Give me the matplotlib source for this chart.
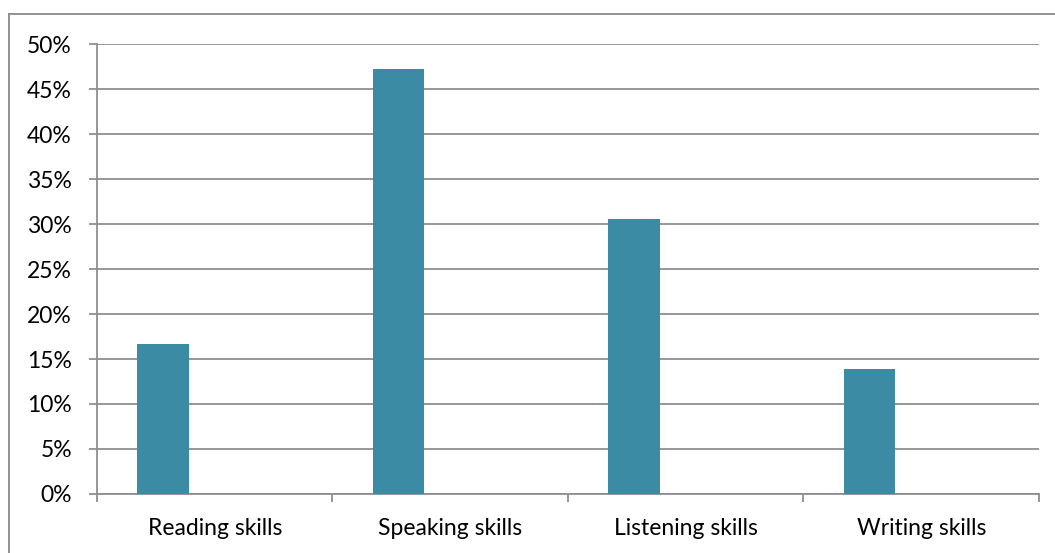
import matplotlib
matplotlib.use("Agg")
import matplotlib.pyplot as plt
from matplotlib.lines import Line2D
from matplotlib.ticker import FixedLocator, PercentFormatter

# values (share of respondents)
categories = ["Reading skills", "Speaking skills", "Listening skills", "Writing skills"]
shares = [16.67, 47.22, 30.56, 13.89]
yticks = [0, 5, 10, 15, 20, 25, 30, 35, 40, 45, 50]

BAR = "#3C8BA4"
GRID = "#8F8F8F"

plt.rcParams["font.family"] = ["Lato", "DejaVu Sans"]

fig = plt.figure(figsize=(10.55, 5.53), dpi=100)
ax = fig.add_axes([0.0919, 0.1067, 0.8929, 0.8137])

# excel-style cluster: bar sits in the first of three slots per category
x = list(range(len(categories)))
width = 0.22
offs = -0.5 + 66 / 235.25
ax.bar([i + offs for i in x], shares, width=width, color=BAR, zorder=3)

ax.set_xlim(-0.5, len(categories) - 0.5)
ax.set_ylim(0, 50)
ax.set_yticks(yticks)
ax.yaxis.set_major_formatter(PercentFormatter(decimals=0))
ax.grid(axis="y", color=GRID, linewidth=1.3, zorder=0)

ax.set_xticks(x)
ax.set_xticklabels(categories)
ax.xaxis.set_minor_locator(FixedLocator([i - 0.5 for i in range(len(categories) + 1)]))
ax.tick_params(axis="x", which="major", length=0, pad=17, labelsize=16.5)
ax.tick_params(axis="x", which="minor", length=6, width=1.3, color=GRID)
ax.tick_params(axis="y", length=6, width=1.3, color=GRID, pad=12, labelsize=16.5)

for s in ["top", "right"]:
    ax.spines[s].set_visible(False)
for s in ["left", "bottom"]:
    ax.spines[s].set_color(GRID)
    ax.spines[s].set_linewidth(1.3)

# outer chart border (cropped: only left and top visible)
W, H = 1055, 553
fig.add_artist(Line2D([9 / W, 9 / W], [0, 1 - 14 / H], color="#8A8A8A", lw=1.3))
fig.add_artist(Line2D([9 / W, 1], [1 - 14 / H, 1 - 14 / H], color="#8A8A8A", lw=1.3))

fig.savefig("out.png", dpi=100)
